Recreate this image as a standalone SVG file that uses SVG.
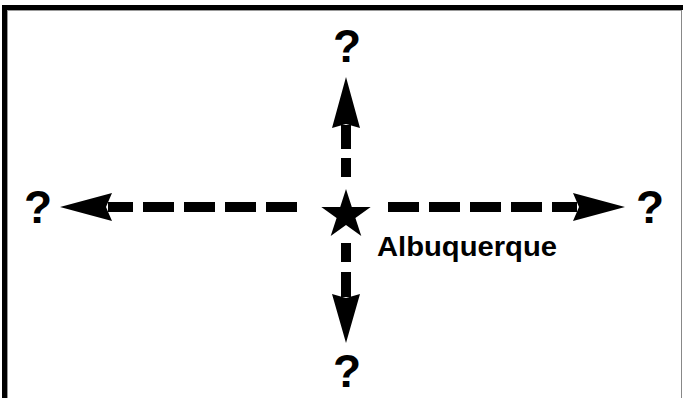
<svg xmlns="http://www.w3.org/2000/svg" width="683" height="398" viewBox="0 0 683 398">
<style>
.q{font-family:"Liberation Sans","DejaVu Sans",sans-serif;font-weight:bold;font-size:46px;fill:#000;text-anchor:middle}
.lbl{font-family:"Liberation Sans","DejaVu Sans",sans-serif;font-weight:bold;font-size:27px;fill:#000}
.c{stroke:#000;stroke-width:10;fill:none;stroke-linecap:butt}
.h{fill:#000}
</style>
<rect width="683" height="398" fill="#fff"/>
<g id="frame">
<rect x="2" y="5" width="681" height="5" fill="#000"/>
<rect x="2" y="5" width="5" height="393" fill="#000"/>
<line x1="7" y1="10.5" x2="681" y2="10.5" stroke="#999" stroke-width="1"/>
<line x1="7.5" y1="10" x2="7.5" y2="398" stroke="#999" stroke-width="1"/>
<line x1="681.5" y1="10" x2="681.5" y2="398" stroke="#888" stroke-width="1"/>
</g>
<g id="connectors">
<path class="c" d="M297,207H266M256,207H225M215,207H184M174,207H143M133,207H108"/>
<path class="h" d="M60,207L112,193L106,207L112,221Z"/>
<path class="c" d="M388,207H419M429,207H460M470,207H501M511,207H542M552,207H577"/>
<path class="h" d="M625,207L573,193L579,207L573,221Z"/>
<path class="c" d="M346,177V158M346,149V125"/>
<path class="h" d="M346,77L360,128L346,124L332,128Z"/>
<path class="c" d="M346,243V262M346,272V297"/>
<path class="h" d="M346,343L360,294L346,298L332,294Z"/>
</g>
<g id="albuquerque">
<path d="M346,189L351.8,207L370.7,207L355.4,218.1L361.3,236L346,224.9L330.7,236L336.6,218.1L321.3,207L340.2,207Z" fill="#000"/>
<text class="lbl" x="377" y="256" textLength="180" lengthAdjust="spacingAndGlyphs">Albuquerque</text>
</g>
<g id="q-top"><text class="q" x="347" y="62">?</text></g>
<g id="q-left"><text class="q" x="38" y="223">?</text></g>
<g id="q-right"><text class="q" x="650" y="223">?</text></g>
<g id="q-bottom"><text class="q" x="347" y="387">?</text></g>
</svg>
